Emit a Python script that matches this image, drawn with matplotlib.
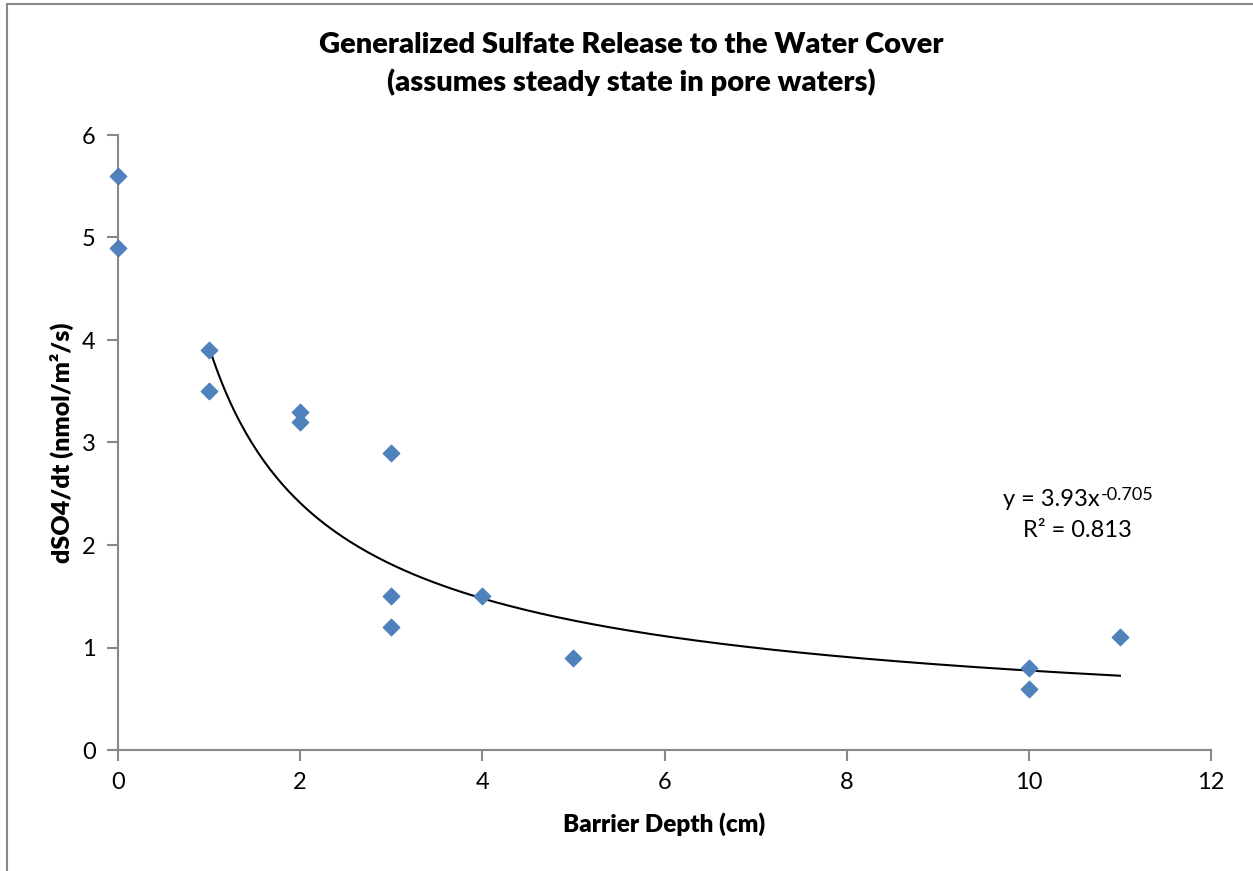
import numpy as np
import matplotlib
matplotlib.use("Agg")
import matplotlib.pyplot as plt
from matplotlib.patches import Rectangle

depth = [0, 0, 1, 1, 2, 2, 3, 3, 3, 4, 5, 10, 10, 11]
release = [5.6, 4.9, 3.9, 3.5, 3.3, 3.2, 2.9, 1.5, 1.2, 1.5, 0.9, 0.8, 0.6, 1.1]
coef_a = 3.93
coef_b = -0.705
r2 = 0.813
xticks = [0, 2, 4, 6, 8, 10, 12]
yticks = [0, 1, 2, 3, 4, 5, 6]

plt.rcParams['font.family'] = ['Lato', 'DejaVu Sans']
BOLD = 'heavy'

fig = plt.figure(figsize=(12.53, 8.71), dpi=100)
fig.patches.append(Rectangle((7/1253, -0.1), 1.2, (1 - 4/871) + 0.1, transform=fig.transFigure,
                             fill=False, edgecolor='#888888', linewidth=1.5))
ax = fig.add_axes([118/1253, 1 - 750/871, (1211 - 118)/1253, (750 - 135)/871])

ax.scatter(depth, release, marker='D', s=70, color='#4F81BD', edgecolors='#4F81BD', zorder=3, clip_on=False)
xf = np.linspace(min(d for d in depth if d > 0), max(depth), 300)
ax.plot(xf, coef_a * xf ** coef_b, color='black', linewidth=1.5, zorder=2)

ax.set_xlim(0, 12)
ax.set_ylim(0, 6)
ax.set_xticks(xticks)
ax.set_yticks(yticks)
for s in ['top', 'right']:
    ax.spines[s].set_visible(False)
for s in ['left', 'bottom']:
    ax.spines[s].set_color('#888888')
    ax.spines[s].set_linewidth(1.5)
ax.tick_params(axis='both', colors='#888888', labelcolor='black', length=8, width=1.5, labelsize=17, pad=8)

ax.set_xlabel('Barrier Depth (cm)', fontsize=17.5, fontweight=BOLD, labelpad=14)
ax.set_ylabel('dSO4/dt (nmol/m²/s)', fontsize=18, fontweight=BOLD, labelpad=6)
fig.text(631/1253, 1 - 45/871, 'Generalized Sulfate Release to the Water Cover',
         ha='center', va='center', fontsize=21, fontweight=BOLD)
fig.text(631/1253, 1 - 82/871, '(assumes steady state in pore waters)',
         ha='center', va='center', fontsize=21, fontweight=BOLD)

t1 = ax.text(10.78, 2.38, 'y = %.2fx' % coef_a, ha='right', va='baseline', fontsize=17)
ax.annotate('%.3f' % coef_b, xy=(1, 0), xycoords=t1, xytext=(1, 7), textcoords='offset points',
            ha='left', va='baseline', fontsize=13)
ax.text(10.53, 2.078, 'R² = %.3f' % r2, ha='center', va='baseline', fontsize=17)

fig.savefig('out.png', dpi=100)
